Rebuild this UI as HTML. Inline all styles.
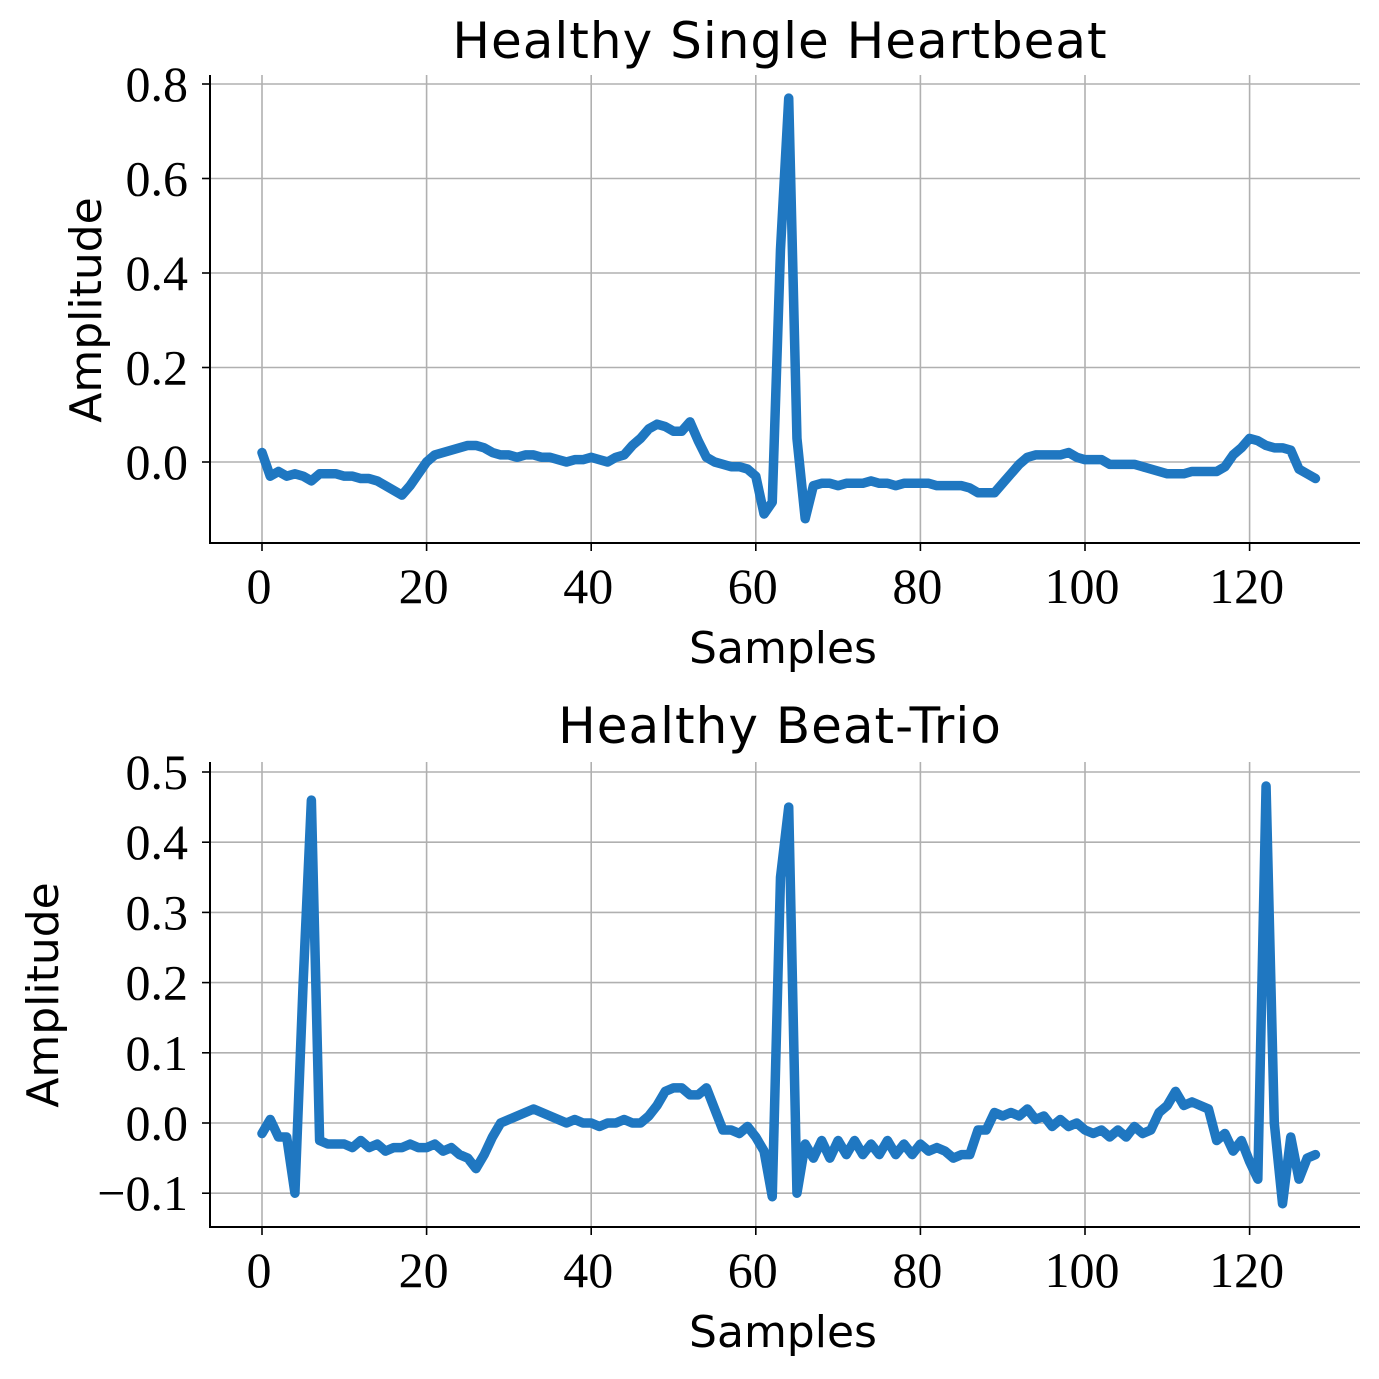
<!DOCTYPE html>
<html><head><meta charset="utf-8"><style>
html,body{margin:0;padding:0;background:#fff;}
svg{display:block;}
.tick{font-family:"Liberation Serif",serif;font-size:50px;fill:#000;}
.ttl{font-family:"DejaVu Sans","Liberation Sans",sans-serif;font-size:50px;fill:#000;letter-spacing:1px;}
.lbl{font-family:"DejaVu Sans","Liberation Sans",sans-serif;font-size:44px;fill:#000;}
</style></head><body>
<svg id="fig" width="1379" height="1379" viewBox="0 0 1379 1379" xmlns="http://www.w3.org/2000/svg"></svg>
<script>
const xTicks=[0,20,40,60,80,100,120];
const topYTicks=[0.0,0.2,0.4,0.6,0.8];
const topYLabels=["0.0","0.2","0.4","0.6","0.8"];
const botYTicks=[-0.1,0.0,0.1,0.2,0.3,0.4,0.5];
const botYLabels=["\u22120.1","0.0","0.1","0.2","0.3","0.4","0.5"];
const singleBeat=[0.02,-0.03,-0.02,-0.03,-0.025,-0.03,-0.04,-0.025,-0.025,-0.025,-0.03,-0.03,-0.035,-0.035,-0.04,-0.05,-0.06,-0.07,-0.05,-0.025,0.0,0.015,0.02,0.025,0.03,0.035,0.035,0.03,0.02,0.015,0.015,0.01,0.015,0.015,0.01,0.01,0.005,0.0,0.005,0.005,0.01,0.005,0.0,0.01,0.015,0.035,0.05,0.07,0.08,0.075,0.065,0.065,0.085,0.045,0.01,0.0,-0.005,-0.01,-0.01,-0.015,-0.03,-0.11,-0.085,0.45,0.77,0.05,-0.12,-0.05,-0.045,-0.045,-0.05,-0.045,-0.045,-0.045,-0.04,-0.045,-0.045,-0.05,-0.045,-0.045,-0.045,-0.045,-0.05,-0.05,-0.05,-0.05,-0.055,-0.065,-0.065,-0.065,-0.045,-0.025,-0.005,0.01,0.015,0.015,0.015,0.015,0.02,0.01,0.005,0.005,0.005,-0.005,-0.005,-0.005,-0.005,-0.01,-0.015,-0.02,-0.025,-0.025,-0.025,-0.02,-0.02,-0.02,-0.02,-0.01,0.015,0.03,0.05,0.045,0.035,0.03,0.03,0.025,-0.015,-0.025,-0.035];
const beatTrio=[-0.015,0.005,-0.02,-0.02,-0.1,0.2,0.46,-0.025,-0.03,-0.03,-0.03,-0.035,-0.025,-0.035,-0.03,-0.04,-0.035,-0.035,-0.03,-0.035,-0.035,-0.03,-0.04,-0.035,-0.045,-0.05,-0.065,-0.045,-0.02,0.0,0.005,0.01,0.015,0.02,0.015,0.01,0.005,0.0,0.005,0.0,0.0,-0.005,0.0,0.0,0.005,0.0,0.0,0.01,0.025,0.045,0.05,0.05,0.04,0.04,0.05,0.02,-0.01,-0.01,-0.015,-0.005,-0.02,-0.04,-0.105,0.35,0.45,-0.1,-0.03,-0.05,-0.025,-0.05,-0.025,-0.045,-0.025,-0.045,-0.03,-0.045,-0.025,-0.045,-0.03,-0.045,-0.03,-0.04,-0.035,-0.04,-0.05,-0.045,-0.045,-0.01,-0.01,0.015,0.01,0.015,0.01,0.02,0.005,0.01,-0.005,0.005,-0.005,0.0,-0.01,-0.015,-0.01,-0.02,-0.01,-0.02,-0.005,-0.015,-0.01,0.015,0.025,0.045,0.025,0.03,0.025,0.02,-0.025,-0.015,-0.04,-0.025,-0.055,-0.08,0.48,0.0,-0.115,-0.02,-0.08,-0.05,-0.045];

const NS="http://www.w3.org/2000/svg";
const svg=document.getElementById('fig');
function mk(tag,attrs,parent){const e=document.createElementNS(NS,tag);for(const k in attrs)e.setAttribute(k,attrs[k]);(parent||svg).appendChild(e);return e;}

function panel(o){
  const g=mk('g',{});
  
  
  const xs=v=>262+8.23*v;
  const ys=v=>o.y0+(v-o.v0)*(o.y1-o.y0)/(o.v1-o.v0);
  xTicks.forEach(t=>{const l=mk('line',{x1:xs(t),x2:xs(t),y1:o.top,y2:o.bottom,stroke:'#b0b0b0','stroke-width':1.6},g);
    
    });
  o.yTicks.forEach(t=>{const l=mk('line',{x1:210,x2:1360,y1:ys(t),y2:ys(t),stroke:'#b0b0b0','stroke-width':1.6},g);
    
    });
  const pts=o.data.map((v,i)=>xs(i).toFixed(2)+','+ys(v).toFixed(2)).join(' ');
  const pl=mk('polyline',{points:pts,fill:'none',stroke:'#1f77c1','stroke-width':9.5,'stroke-linejoin':'round','stroke-linecap':'round'},g);
  
  
  const sl=mk('line',{x1:210,x2:210,y1:o.top,y2:o.bottom+1,stroke:'#000','stroke-width':2},g);
  
  
  const sb=mk('line',{x1:209,x2:1360,y1:o.bottom,y2:o.bottom,stroke:'#000','stroke-width':2},g);
  
  
  xTicks.forEach(t=>{mk('line',{x1:xs(t),x2:xs(t),y1:o.bottom,y2:o.bottom+8,stroke:'#000','stroke-width':1.6},g);
    const tx=mk('text',{x:xs(t)-3,y:o.bottom+60,'text-anchor':'middle',class:'tick'},g);tx.textContent=t;
    
    });
  o.yTicks.forEach((t,i)=>{mk('line',{x1:202,x2:210,y1:ys(t),y2:ys(t),stroke:'#000','stroke-width':1.6},g);
    const tx=mk('text',{x:188,y:ys(t)+17,'text-anchor':'end',class:'tick'},g);tx.textContent=o.yLabels[i];
    
    });
  const ti=mk('text',{x:780,y:o.titleY,'text-anchor':'middle',class:'ttl'},g);ti.textContent=o.title;
  
  
  const xl=mk('text',{x:783,y:o.bottom+120,'text-anchor':'middle',class:'lbl'},g);xl.textContent='Samples';
  
  
  const yl=mk('text',{x:0,y:0,'text-anchor':'middle',class:'lbl',transform:`translate(${o.ylX},${o.ylY}) rotate(-90)`},g);yl.textContent='Amplitude';
  
  
}
panel({name:'single-heartbeat-chart',data:singleBeat,yTicks:topYTicks,yLabels:topYLabels,v0:0,y0:462,v1:0.8,y1:84,top:75,bottom:543,title:'Healthy Single Heartbeat',titleY:58,ylX:101,ylY:310});
panel({name:'beat-trio-chart',data:beatTrio,yTicks:botYTicks,yLabels:botYLabels,v0:0,y0:1123,v1:0.5,y1:772,top:762,bottom:1227,title:'Healthy Beat-Trio',titleY:743,ylX:58,ylY:995});
</script>
</body></html>
